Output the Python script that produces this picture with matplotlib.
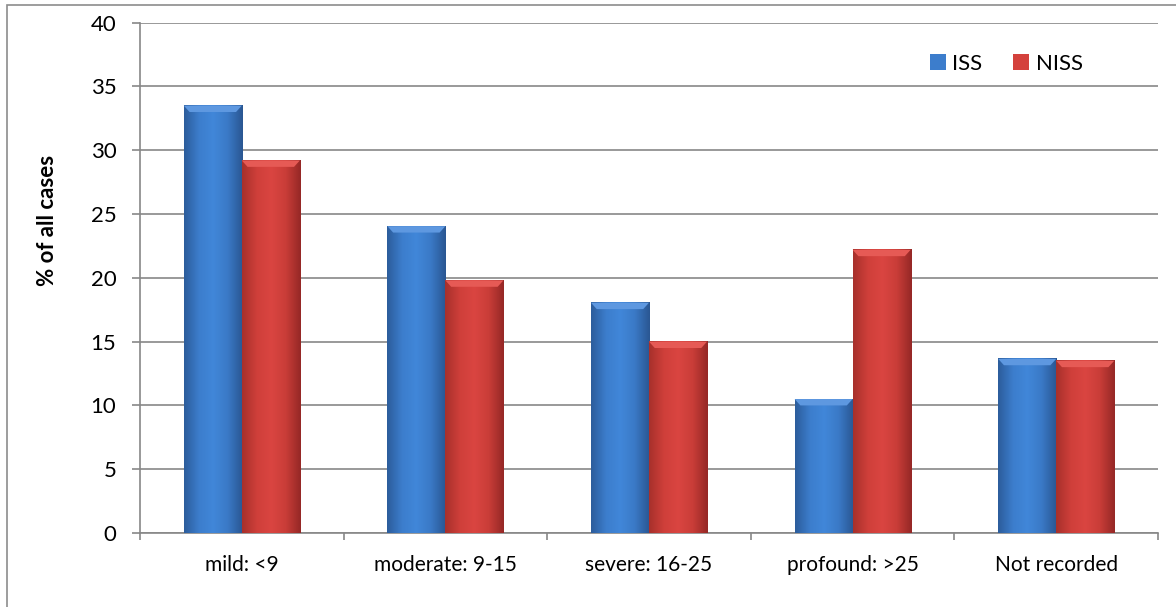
import numpy as np
import matplotlib
matplotlib.use("Agg")
import matplotlib.pyplot as plt
from matplotlib.colors import LinearSegmentedColormap
from matplotlib.patches import Rectangle

categories = ["mild: <9", "moderate: 9-15", "severe: 16-25", "profound: >25", "Not recorded"]
iss = [33.5, 24.05, 18.05, 10.5, 13.65]
niss = [29.2, 19.8, 15.0, 22.2, 13.5]
yticks = [0, 5, 10, 15, 20, 25, 30, 35, 40]

plt.rcParams['font.family'] = ['Lato', 'DejaVu Sans']
fs = 15

W, H = 1176, 607
fig = plt.figure(figsize=(W / 100, H / 100), dpi=100)
ax = fig.add_axes([140 / W, 1 - 533 / H, 1018 / W, 510.3 / H])

# outer frame (only top and left sides are inside the picture)
fig.patches.append(Rectangle((7 / W, -0.1), 1.2, 1 - 5 / H + 0.1, transform=fig.transFigure,
                             fill=False, edgecolor='#8c8c8c', linewidth=1.2))

grey = '#878787'
x = np.arange(len(categories))
w = 0.285

blue_cmap = LinearSegmentedColormap.from_list('b', ['#2c5d9c', '#3c7dcc', '#4187d9', '#3a79c6', '#2a5793'])
red_cmap = LinearSegmentedColormap.from_list('r', ['#a8302c', '#cf3f3a', '#da4541', '#c93d38', '#962826'])
grad = np.linspace(0, 1, 64).reshape(1, -1)

bars1 = ax.bar(x - w / 2, iss, w, color='#3c7dcc', label='ISS', zorder=2)
bars2 = ax.bar(x + w / 2, niss, w, color='#d4413c', label='NISS', zorder=2)

for bars, cmap, top in [(bars1, blue_cmap, '#5e98e0'), (bars2, red_cmap, '#e65a55')]:
    for b in bars:
        x0, y0 = b.get_x(), b.get_y()
        bw, bh = b.get_width(), b.get_height()
        ax.imshow(grad, cmap=cmap, extent=(x0, x0 + bw, y0, y0 + bh), aspect='auto', zorder=3)
        # top bevel
        ax.fill([x0, x0 + bw, x0 + bw * 0.9, x0 + bw * 0.1], [y0 + bh, y0 + bh, y0 + bh - 0.5, y0 + bh - 0.5],
                color=top, zorder=4, lw=0)

ax.set_xlim(-0.5, len(categories) - 0.5)
ax.set_ylim(0, 40)
ax.set_yticks(yticks)
ax.set_xticks(x)
ax.set_xticklabels(categories)
ax.set_xticks(np.arange(-0.5, len(categories)), minor=True)
ax.tick_params(axis='x', which='major', length=0, pad=16, labelsize=fs)
ax.tick_params(axis='x', which='minor', length=5, color=grey, width=1.2)
ax.tick_params(axis='y', length=6, color=grey, width=1.2, pad=11, labelsize=fs + 1)

ax.grid(axis='y', color=grey, linewidth=1.2, zorder=0)
ax.set_axisbelow(True)
for s in ['top', 'right']:
    ax.spines[s].set_visible(False)
for s in ['left', 'bottom']:
    ax.spines[s].set_color(grey)
    ax.spines[s].set_linewidth(1.2)

fig.text(48 / W, 1 - 220 / H, '% of all cases', rotation=90, ha='center', va='center',
         fontsize=16, fontweight='bold')

ax.legend(loc='center', bbox_to_anchor=(0.851, 0.919), ncol=2, frameon=False, fontsize=16,
          handlelength=0.7, handleheight=0.7, handletextpad=0.3, columnspacing=1.4)

fig.savefig('out.png', dpi=100)
